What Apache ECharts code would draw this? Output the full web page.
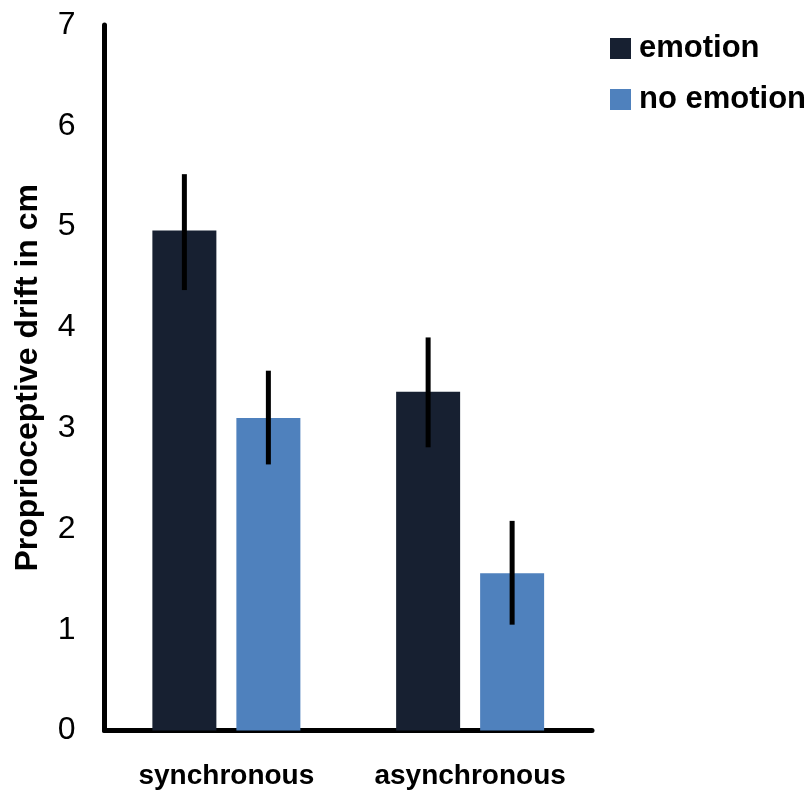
<!DOCTYPE html>
<html>
<head>
<meta charset="utf-8">
<script src="https://cdn.jsdelivr.net/npm/echarts@6/dist/echarts.min.js"></script>
<style>
html,body{margin:0;padding:0;background:#fff;}
#chart{width:810px;height:791px;}
</style>
</head>
<body>
<div id="chart"></div>
<script>
var categories = ['synchronous', 'asynchronous'];
var seriesNames = ['emotion', 'no emotion'];
var emotionValues = [4.96, 3.36];
var noEmotionValues = [3.10, 1.56];
var emotionErrLow = [4.37, 2.81];
var emotionErrHigh = [5.52, 3.90];
var noEmotionErrLow = [2.64, 1.05];
var noEmotionErrHigh = [3.57, 2.08];
var yTicks = [0, 1, 2, 3, 4, 5, 6, 7];

var colors = ['#172031', '#4F81BD'];
var BAR_W = 64, BAR_GAP = 20;
var FONT = 'Liberation Sans, Arial, sans-serif';

function errSeries(low, high, idx) {
  var data = categories.map(function (c, i) { return [i, low[i], high[i]]; });
  var sign = idx === 0 ? -1 : 1;
  return {
    type: 'custom',
    name: seriesNames[idx] + ' err',
    data: data,
    z: 10,
    silent: true,
    renderItem: function (params, api) {
      var x = api.value(0);
      var p1 = api.coord([x, api.value(1)]);
      var p2 = api.coord([x, api.value(2)]);
      var off = sign * (BAR_W + BAR_GAP) / 2;
      return {
        type: 'line',
        shape: { x1: p1[0] + off, y1: p1[1], x2: p2[0] + off, y2: p2[1] },
        style: { stroke: '#000', lineWidth: 5 }
      };
    }
  };
}

var chart = echarts.init(document.getElementById('chart'), null, { renderer: 'canvas' });
chart.setOption({
  animation: false,
  backgroundColor: '#fff',
  grid: { left: 104.5, right: 218, top: 25, bottom: 60.5, containLabel: false },
  legend: {
    orient: 'vertical',
    left: 605,
    top: 28,
    itemWidth: 21,
    itemHeight: 21,
    itemGap: 20,
    icon: 'rect',
    data: seriesNames,
    textStyle: { fontFamily: FONT, fontWeight: 'bold', fontSize: 31, color: '#000', padding: [0, 0, 0, 3] }
  },
  xAxis: {
    type: 'category',
    data: categories,
    axisLine: { lineStyle: { color: '#000', width: 5 } },
    axisTick: { show: false },
    axisLabel: { interval: 0, fontFamily: FONT, fontWeight: 'bold', fontSize: 28, color: '#000', margin: 32 }
  },
  yAxis: {
    type: 'value',
    min: yTicks[0],
    max: yTicks[yTicks.length - 1],
    interval: 1,
    name: 'Proprioceptive drift in cm',
    nameLocation: 'middle',
    nameGap: 60,
    nameTextStyle: { fontFamily: FONT, fontWeight: 'bold', fontSize: 32, color: '#000' },
    axisLine: { show: true, lineStyle: { color: '#000', width: 5 } },
    axisTick: { show: false },
    splitLine: { show: false },
    axisLabel: { fontFamily: FONT, fontSize: 32, color: '#000', margin: 29 }
  },
  series: [
    { type: 'bar', name: seriesNames[0], data: emotionValues, barWidth: BAR_W, barGap: (BAR_GAP / BAR_W * 100) + '%', itemStyle: { color: colors[0] } },
    { type: 'bar', name: seriesNames[1], data: noEmotionValues, barWidth: BAR_W, barGap: (BAR_GAP / BAR_W * 100) + '%', itemStyle: { color: colors[1] } },
    errSeries(emotionErrLow, emotionErrHigh, 0),
    errSeries(noEmotionErrLow, noEmotionErrHigh, 1)
  ]
});
</script>
</body>
</html>
